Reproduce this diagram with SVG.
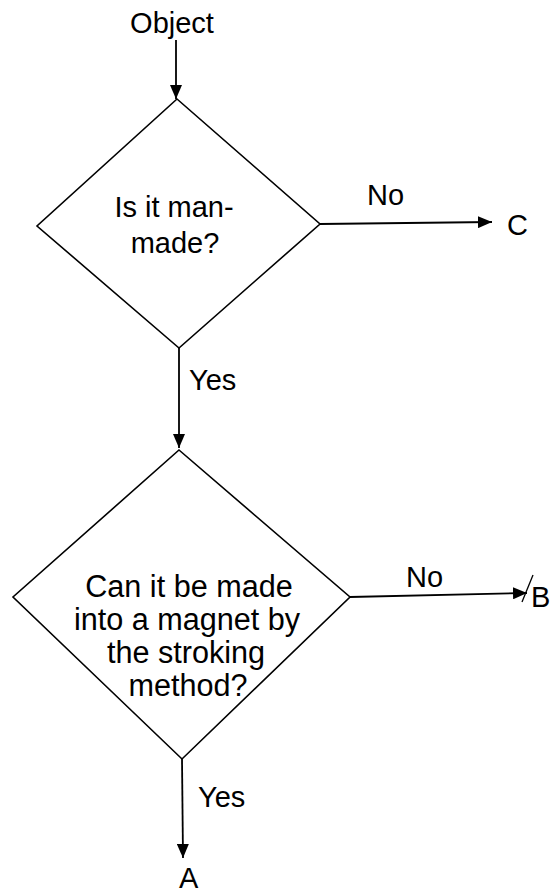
<svg xmlns="http://www.w3.org/2000/svg" width="557" height="893" viewBox="0 0 557 893">
<style>
.t{font-family:"Liberation Sans",Arial,sans-serif;font-size:29px;fill:#000}
.b{font-size:30.6px}
.m{text-anchor:middle}
.s{fill:#fff;stroke:#000;stroke-width:1.6}
.c{fill:none;stroke:#000;stroke-width:1.8}
</style>
<defs>
<marker id="ah" viewBox="0 0 14 12" refX="14" refY="6" markerWidth="14" markerHeight="12" markerUnits="userSpaceOnUse" orient="auto">
<path d="M0,0 L14,6 L0,12 Z" fill="#000"/>
</marker>
</defs>
<rect width="557" height="893" fill="#fff"/>
<g id="start"><text class="t m" x="172" y="33">Object</text></g>
<g id="d1">
<polygon class="s" points="177,99 320,224 179,348 37,226"/>
<text class="t m" x="174" y="217">Is it man-</text>
<text class="t m" x="175" y="253">made?</text>
</g>
<g id="d2">
<polygon class="s" points="179,450 350,597 182,759 13,597"/>
<text class="t b m" x="189" y="597">Can it be made</text>
<text class="t b m" x="187" y="630">into a magnet by</text>
<text class="t b m" x="186" y="663">the stroking</text>
<text class="t b m" x="188" y="696">method?</text>
</g>
<g id="outC"><text class="t" x="507" y="235">C</text></g>
<g id="outB"><text class="t" x="531" y="607">B</text></g>
<g id="outA"><text class="t" x="179" y="888">A</text></g>
<g id="connectors">
<line class="c" x1="176" y1="40" x2="176" y2="99" marker-end="url(#ah)"/>
<line class="c" x1="320" y1="224" x2="492" y2="222" marker-end="url(#ah)"/>
<line class="c" x1="179" y1="348" x2="179" y2="448" marker-end="url(#ah)"/>
<line class="c" x1="350" y1="597" x2="527" y2="593" marker-end="url(#ah)"/>
<line x1="533" y1="575" x2="522" y2="602" stroke="#000" stroke-width="1.3"/>
<line class="c" x1="182" y1="759" x2="183" y2="858" marker-end="url(#ah)"/>
<text class="t" x="367" y="205">No</text>
<text class="t" x="406" y="587">No</text>
<text class="t" x="189" y="390">Yes</text>
<text class="t" x="198" y="807">Yes</text>
</g>
</svg>
